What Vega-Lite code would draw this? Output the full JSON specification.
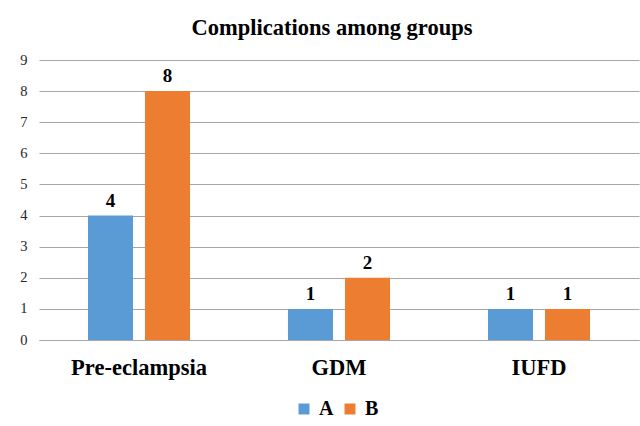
{
  "$schema": "https://vega.github.io/schema/vega-lite/v6.json",
  "autosize": {"type": "none"},
  "width": 600,
  "height": 280,
  "padding": {"left": 39, "top": 60, "right": 1, "bottom": 86},
  "background": "white",
  "config": {
    "view": {"stroke": null},
    "font": "Liberation Serif"
  },
  "title": {
    "text": "Complications among groups",
    "font": "Liberation Serif",
    "fontSize": 22.5,
    "fontWeight": "bold",
    "color": "black",
    "anchor": "middle",
    "dx": -7,
    "offset": 13
  },
  "data": {
    "values": [
      {"complication": "Pre-eclampsia", "group": "A", "count": 4},
      {"complication": "Pre-eclampsia", "group": "B", "count": 8},
      {"complication": "GDM", "group": "A", "count": 1},
      {"complication": "GDM", "group": "B", "count": 2},
      {"complication": "IUFD", "group": "A", "count": 1},
      {"complication": "IUFD", "group": "B", "count": 1}
    ]
  },
  "encoding": {
    "x": {
      "field": "complication",
      "type": "nominal",
      "sort": ["Pre-eclampsia", "GDM", "IUFD"],
      "scale": {"paddingInner": 0, "paddingOuter": 0},
      "axis": {
        "title": null,
        "labelAngle": 0,
        "labelFont": "Liberation Serif",
        "labelFontSize": 22.5,
        "labelFontWeight": "bold",
        "labelColor": "black",
        "labelPadding": 16,
        "ticks": false,
        "domainColor": "#A6A6A6",
        "domainWidth": 1.2
      }
    },
    "xOffset": {
      "field": "group",
      "type": "nominal",
      "scale": {"paddingInner": 0.21, "paddingOuter": 0.859}
    },
    "y": {
      "field": "count",
      "type": "quantitative",
      "scale": {"domain": [0, 9], "nice": false},
      "axis": {
        "title": null,
        "values": [0, 1, 2, 3, 4, 5, 6, 7, 8, 9],
        "labelOverlap": false,
        "domain": false,
        "ticks": false,
        "labelFont": "Liberation Serif",
        "labelFontSize": 14.5,
        "labelColor": "#262626",
        "labelPadding": 12,
        "gridColor": "#A6A6A6",
        "gridWidth": 1.2
      }
    }
  },
  "layer": [
    {
      "mark": {"type": "bar"},
      "encoding": {
        "color": {
          "field": "group",
          "type": "nominal",
          "scale": {"domain": ["A", "B"], "range": ["#5B9BD5", "#ED7D31"]},
          "legend": {
            "title": null,
            "orient": "none",
            "legendX": 255,
            "legendY": 339,
            "direction": "horizontal",
            "symbolType": "square",
            "symbolSize": 120,
            "symbolStrokeWidth": 0,
            "labelFont": "Liberation Serif",
            "labelFontSize": 20,
            "labelFontWeight": "bold",
            "labelColor": "black",
            "labelOffset": 5,
            "columnPadding": 6
          }
        }
      }
    },
    {
      "mark": {
        "type": "text",
        "dy": -15,
        "font": "Liberation Serif",
        "fontSize": 19,
        "fontWeight": "bold",
        "color": "black"
      },
      "encoding": {
        "text": {"field": "count", "type": "quantitative"}
      }
    }
  ]
}
